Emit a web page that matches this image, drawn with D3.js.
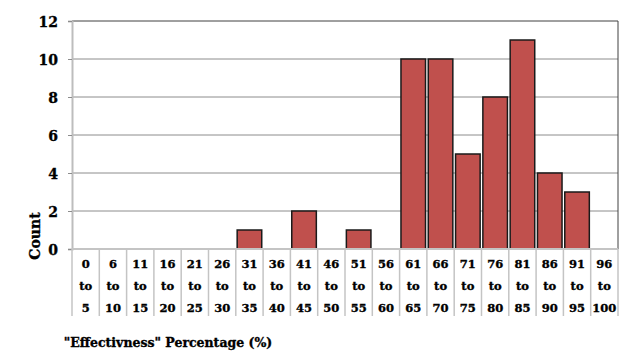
<!DOCTYPE html>
<html>
<head>
<script src="https://cdn.jsdelivr.net/npm/d3@7"></script>
<style>
  body { margin: 0; background: #fff; }
  svg text { font-family: "DejaVu Serif", serif; font-weight: bold; fill: #000; stroke: #000; stroke-width: 0.35px; }
</style>
</head>
<body>
<script>
const rangeStart = [0, 6, 11, 16, 21, 26, 31, 36, 41, 46, 51, 56, 61, 66, 71, 76, 81, 86, 91, 96];
const rangeEnd = [5, 10, 15, 20, 25, 30, 35, 40, 45, 50, 55, 60, 65, 70, 75, 80, 85, 90, 95, 100];
const counts = [0, 0, 0, 0, 0, 0, 1, 0, 2, 0, 1, 0, 10, 10, 5, 8, 11, 4, 3, 0];
const yTicks = [0, 2, 4, 6, 8, 10, 12];

const width = 635, height = 362;
const mLeft = 72, mRight = 618, mTop = 21, mBottom = 249;
const serif = '"DejaVu Serif", serif';

const svg = d3.select('body').append('svg')
  .attr('width', width).attr('height', height);

const cats = rangeStart.map((s, i) => s + ' to ' + rangeEnd[i]);

const x = d3.scaleBand().domain(cats).range([mLeft, mRight]).paddingInner(0.1).paddingOuter(0.05);
const y = d3.scaleLinear().domain([0, 12]).range([mBottom, mTop]);

// gridlines
svg.selectAll('.grid').data(yTicks.filter(d => d > 0 && d < 12))
  .join('line')
  .attr('x1', mLeft).attr('x2', mRight)
  .attr('y1', d => y(d)).attr('y2', d => y(d))
  .attr('stroke', '#8c8c8c').attr('stroke-width', 1);

// top and right border
svg.append('path')
  .attr('d', `M${mLeft},${y(12)}H${mRight}V${mBottom}`)
  .attr('fill', 'none').attr('stroke', '#404040').attr('stroke-width', 1);

// y axis
const yAxis = svg.append('g').attr('transform', `translate(${mLeft},0)`)
  .call(d3.axisLeft(y).tickValues(yTicks).tickSize(4).tickPadding(10))
  .attr('font-family', serif).attr('font-size', 14).attr('font-weight', 'bold');
yAxis.select('.domain').attr('stroke', '#bdbdbd').attr('stroke-width', 2);
yAxis.selectAll('.tick line').attr('stroke', '#8c8c8c');
yAxis.selectAll('text').attr('fill', '#000').attr('dy', '0.36em');

// bars
svg.selectAll('.bar').data(counts.map((c, i) => ({ cat: cats[i], c })).filter(d => d.c > 0))
  .join('rect')
  .attr('x', d => x(d.cat)).attr('width', x.bandwidth())
  .attr('y', d => y(d.c)).attr('height', d => y(0) - y(d.c))
  .attr('fill', '#c0504d').attr('stroke', '#1a1a1a').attr('stroke-width', 1.5);

// category table lines
const step = (mRight - mLeft) / cats.length;
const seps = d3.range(cats.length + 1).map(i => mLeft + i * step);
svg.selectAll('.sep').data(seps).join('line')
  .attr('x1', d => d).attr('x2', d => d)
  .attr('y1', mBottom).attr('y2', 316)
  .attr('stroke', '#c4c4c4').attr('stroke-width', 1.5);

// baseline
svg.append('line').attr('x1', mLeft).attr('x2', mRight)
  .attr('y1', mBottom).attr('y2', mBottom)
  .attr('stroke', '#c4c4c4').attr('stroke-width', 2);

// category labels
const labs = svg.selectAll('.lab').data(cats).join('g')
  .attr('transform', (d, i) => `translate(${mLeft + (i + 0.5) * step},0)`);
labs.append('text').attr('y', 268).attr('text-anchor', 'middle').style('font-size', '11.5px')
  .text((d, i) => rangeStart[i]);
labs.append('text').attr('y', 290).attr('text-anchor', 'middle').style('font-size', '11.5px')
  .text('to');
labs.append('text').attr('y', 312).attr('text-anchor', 'middle').style('font-size', '11.5px')
  .text((d, i) => rangeEnd[i]);

// axis titles
svg.append('text')
  .attr('transform', 'translate(40,236) rotate(-90)')
  .attr('text-anchor', 'middle').style('font-size', '14px')
  .text('Count');

svg.append('text')
  .attr('x', 168).attr('y', 347)
  .attr('text-anchor', 'middle').style('font-size', '12.5px')
  .text('"Effectivness" Percentage (%)');
</script>
</body>
</html>
